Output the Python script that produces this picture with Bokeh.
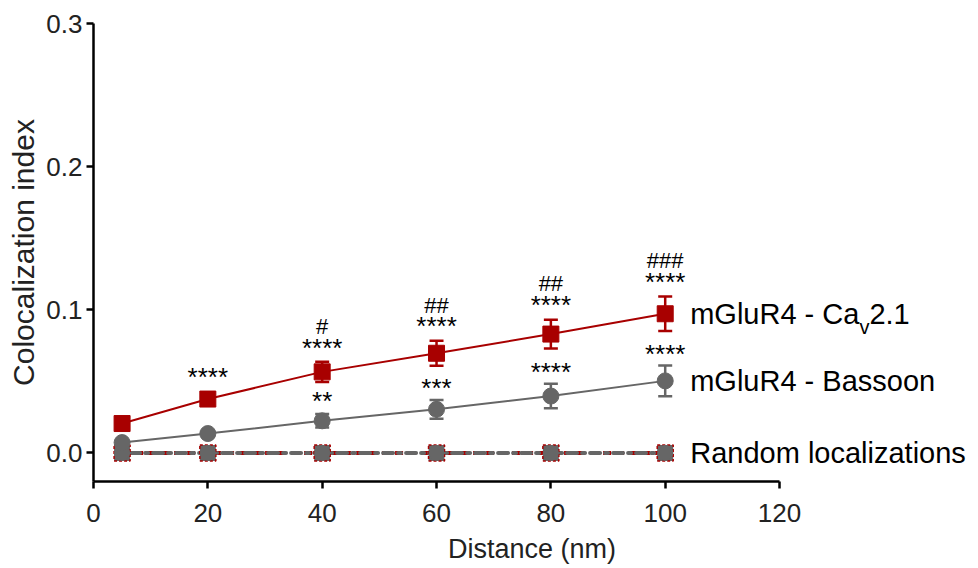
from bokeh.plotting import figure
from bokeh.models import ColumnDataSource, Whisker, TeeHead, Range1d, FixedTicker, NumeralTickFormatter
from bokeh.core.properties import value
from bokeh.embed import file_html
from bokeh.resources import INLINE

# ---------------- data ----------------
distance = [5, 20, 40, 60, 80, 100]
cav_mean = [0.0205, 0.0376, 0.0566, 0.0696, 0.0830, 0.0972]
cav_err = [0.0015, 0.0025, 0.0070, 0.0087, 0.0100, 0.0120]
bsn_mean = [0.0072, 0.0135, 0.0224, 0.0304, 0.0397, 0.0503]
bsn_err = [0.0012, 0.0018, 0.0047, 0.0066, 0.0086, 0.0107]
rand_cav = [0.0, 0.0, 0.0, 0.0, 0.0, 0.0]
rand_bsn = [0.0, 0.0, 0.0, 0.0, 0.0, 0.0]
cav_stars = ["", "****", "****", "****", "****", "****"]
cav_hash = ["", "", "#", "##", "##", "###"]
bsn_stars = ["", "", "**", "***", "****", "****"]
x_ticks = [0, 20, 40, 60, 80, 100, 120]
y_ticks = [0.0, 0.1, 0.2, 0.3]
label_cav = ["mGluR4 - Ca", "v", "2.1"]
label_bsn = "mGluR4 - Bassoon"
label_rand = "Random localizations"

RED = "#a80000"
GRAY = "#666666"
FONT = "Liberation Sans"

p = figure(width=970, height=567, output_backend="svg", toolbar_location=None,
           x_range=Range1d(0, 153.4), y_range=Range1d(-0.02, 0.3),
           min_border_left=93, min_border_right=0, min_border_top=23, min_border_bottom=86)
p.outline_line_color = None
p.xgrid.visible = False
p.ygrid.visible = False
p.background_fill_color = "white"
p.border_fill_color = "white"

for ax in (p.xaxis[0], p.yaxis[0]):
    ax.axis_line_width = 2.5
    ax.axis_line_color = "black"
    ax.major_tick_line_width = 2.5
    ax.major_tick_out = 7
    ax.major_tick_in = 0
    ax.minor_tick_out = 0
    ax.minor_tick_in = 0
    ax.major_label_text_font = FONT
    ax.major_label_text_font_size = "26px"
    ax.major_label_text_color = "#222222"
    ax.axis_label_text_font = FONT
    ax.axis_label_text_font_style = "normal"
    ax.axis_label_text_color = "#222222"

p.xaxis.ticker = FixedTicker(ticks=x_ticks)
p.xaxis.bounds = (0, 120)
p.xaxis.axis_label = "Distance (nm)"
p.xaxis.axis_label_text_font_size = "27px"
p.xaxis.major_label_standoff = 15
p.xaxis.axis_label_standoff = 9
p.yaxis.ticker = FixedTicker(ticks=y_ticks)
p.yaxis.formatter = NumeralTickFormatter(format="0.0")
p.yaxis.axis_label = "Colocalization index"
p.yaxis.axis_label_text_font_size = "30px"
p.yaxis.major_label_standoff = 4
p.yaxis.axis_label_standoff = 3

# random localizations
p.line(distance, rand_cav, line_color=RED, line_width=4, line_dash="8 5")
p.line(distance, rand_bsn, line_color=GRAY, line_width=4, line_dash="3 5 10 5", line_cap="round")
p.scatter(distance, rand_cav, marker="square", size=16, fill_color=GRAY,
          line_color=RED, line_width=1.5, line_dash="3 2")
p.scatter(distance, rand_bsn, marker="circle", size=15, fill_color=GRAY, line_color=GRAY)

# error bars
cav_src = ColumnDataSource(dict(x=distance, y=cav_mean,
                                upper=[m + e for m, e in zip(cav_mean, cav_err)],
                                lower=[m - e for m, e in zip(cav_mean, cav_err)]))
bsn_src = ColumnDataSource(dict(x=distance, y=bsn_mean,
                                upper=[m + e for m, e in zip(bsn_mean, bsn_err)],
                                lower=[m - e for m, e in zip(bsn_mean, bsn_err)]))
for src, col in ((cav_src, RED), (bsn_src, GRAY)):
    p.add_layout(Whisker(source=src, base="x", upper="upper", lower="lower",
                         line_color=col, line_width=2.5,
                         upper_head=TeeHead(size=14, line_color=col, line_width=2.5),
                         lower_head=TeeHead(size=14, line_color=col, line_width=2.5)))

# series
p.line("x", "y", source=bsn_src, line_color=GRAY, line_width=2)
p.scatter("x", "y", source=bsn_src, marker="circle", size=16, fill_color=GRAY, line_color=GRAY)
p.line("x", "y", source=cav_src, line_color=RED, line_width=2)
p.scatter("x", "y", source=cav_src, marker="square", size=16, fill_color=RED, line_color=RED)

# significance annotations
cav_top = [m + max(e, 0.0056) for m, e in zip(cav_mean, cav_err)]
bsn_top = [m + max(e, 0.0056) for m, e in zip(bsn_mean, bsn_err)]
star_src = ColumnDataSource(dict(
    x=distance + distance,
    y=[t + 0.0100 for t in cav_top] + [t + 0.0080 for t in bsn_top],
    t=cav_stars + bsn_stars))
hash_src = ColumnDataSource(dict(
    x=distance, y=[t + 0.0100 + 0.0150 for t in cav_top], t=cav_hash))
p.text("x", "y", text="t", source=star_src, text_font=value(FONT), text_font_size="26px",
       text_align="center", text_baseline="middle", text_color="black")
p.text("x", "y", text="t", source=hash_src, text_font=value(FONT), text_font_size="22px",
       text_align="center", text_baseline="middle", text_color="black")

# series labels
LFS = 29
w1 = 5.834 * LFS
p.text([distance[-1]], [cav_mean[-1]], text=[label_cav[0]], x_offset=25,
       text_font=value(FONT), text_font_size=f"{LFS}px", text_baseline="middle", text_color="black")
p.text([distance[-1]], [cav_mean[-1]], text=[label_cav[1]], x_offset=25 + w1, y_offset=13,
       text_font=value(FONT), text_font_size="20px", text_baseline="middle", text_color="black")
p.text([distance[-1]], [cav_mean[-1]], text=[label_cav[2]], x_offset=25 + w1 + 10,
       text_font=value(FONT), text_font_size=f"{LFS}px", text_baseline="middle", text_color="black")
p.text([distance[-1]], [bsn_mean[-1]], text=[label_bsn], x_offset=25,
       text_font=value(FONT), text_font_size=f"{LFS}px", text_baseline="middle", text_color="black")
p.text([distance[-1]], [rand_bsn[-1]], text=[label_rand], x_offset=25,
       text_font=value(FONT), text_font_size=f"{LFS}px", text_baseline="middle", text_color="black")

open("out.html", "w").write(file_html(p, INLINE))
